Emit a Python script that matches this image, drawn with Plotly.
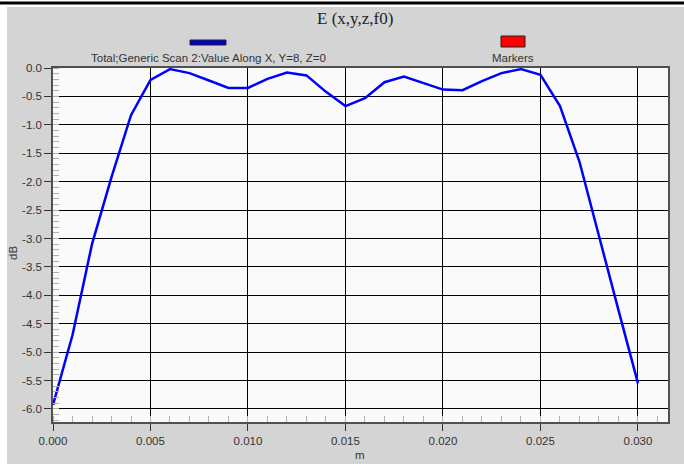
import plotly.graph_objects as go

x_m = [0.000, 0.001, 0.002, 0.003, 0.004, 0.005, 0.006, 0.007, 0.008, 0.009,
       0.010, 0.011, 0.012, 0.013, 0.014, 0.015, 0.016, 0.017, 0.018, 0.019,
       0.020, 0.021, 0.022, 0.023, 0.024, 0.025, 0.026, 0.027, 0.028, 0.029, 0.030]
db_vals = [-5.93, -4.70, -3.10, -1.92, -0.83, -0.21, -0.02, -0.09, -0.22, -0.35,
           -0.35, -0.19, -0.08, -0.13, -0.42, -0.67, -0.53, -0.25, -0.15, -0.26,
           -0.38, -0.39, -0.23, -0.09, -0.02, -0.12, -0.67, -1.65, -2.97, -4.26, -5.55]
x_ticks = [0.000, 0.005, 0.010, 0.015, 0.020, 0.025, 0.030]
y_ticks = [0.0, -0.5, -1.0, -1.5, -2.0, -2.5, -3.0, -3.5, -4.0, -4.5, -5.0, -5.5, -6.0]

W, H = 684, 464
L, R, T, B = 53, 16, 68, 42
pw, ph = W - L - R, H - T - B

def px(xp):
    return (xp - L) / pw

def py(yp):
    return (H - B - yp) / ph

fig = go.Figure()
fig.add_trace(go.Scatter(x=x_m, y=db_vals, mode="lines",
                         line=dict(color="#0000FF", width=2.5), showlegend=False))

font = "Liberation Sans, Arial, sans-serif"
axis_common = dict(showline=True, mirror=True, linecolor="#505050", linewidth=1.5,
                   showgrid=True, gridcolor="#000000", gridwidth=1, zeroline=False,
                   ticks="outside", ticklen=7, tickcolor="#333333", automargin=False,
                   tickfont=dict(family=font, size=11.5, color="#333333"))

fig.update_xaxes(range=[0, 0.03154], tickvals=x_ticks,
                 ticktext=[f"{v:.3f}" for v in x_ticks],
                 minor=dict(dtick=0.001, tick0=0, ticks="inside", ticklen=6,
                            tickcolor="#b0b0b0", showgrid=False),
                 **axis_common)
fig.update_yaxes(range=[-6.23, 0], tickvals=y_ticks,
                 ticktext=[f"{v:.1f}" for v in y_ticks],
                 minor=dict(dtick=0.1, tick0=0, ticks="inside", ticklen=6,
                            tickcolor="#b0b0b0", showgrid=False),
                 **axis_common)

shapes = [
    # white left and top strips
    dict(type="rect", xref="paper", yref="paper", x0=px(-2), x1=px(7), y0=py(H + 2), y1=py(-2),
         fillcolor="white", line_width=0, layer="above"),
    dict(type="rect", xref="paper", yref="paper", x0=px(-2), x1=px(W + 2), y0=py(7), y1=py(-2),
         fillcolor="white", line_width=0, layer="above"),
    # black top rule
    dict(type="rect", xref="paper", yref="paper", x0=px(-2), x1=px(W + 2), y0=py(4.5), y1=py(1.5),
         fillcolor="black", line_width=0, layer="above"),
    # legend swatches
    dict(type="rect", xref="paper", yref="paper", x0=px(190), x1=px(226), y0=py(45), y1=py(40),
         fillcolor="#0000CC", line=dict(color="#222222", width=1), layer="above"),
    dict(type="rect", xref="paper", yref="paper", x0=px(501), x1=px(525), y0=py(47), y1=py(36),
         fillcolor="#FF0000", line=dict(color="#222222", width=1), layer="above"),
]

annotations = [
    dict(text="E (x,y,z,f0)", xref="paper", yref="paper", x=px(355), y=py(18),
         showarrow=False, xanchor="center", yanchor="middle",
         font=dict(family="Liberation Serif, Times New Roman, serif", size=17, color="#222222")),
    dict(text="Total;Generic Scan 2:Value Along X, Y=8, Z=0", xref="paper", yref="paper",
         x=px(208), y=py(57.5), showarrow=False, xanchor="center", yanchor="middle",
         font=dict(family=font, size=11.5, color="#333333")),
    dict(text="Markers", xref="paper", yref="paper",
         x=px(513), y=py(57.5), showarrow=False, xanchor="center", yanchor="middle",
         font=dict(family=font, size=11.5, color="#333333")),
    dict(text="m", xref="paper", yref="paper", x=px(360), y=py(455),
         showarrow=False, xanchor="center", yanchor="middle",
         font=dict(family=font, size=11.5, color="#333333")),
    dict(text="dB", xref="paper", yref="paper", x=px(13), y=py(253), textangle=-90,
         showarrow=False, xanchor="center", yanchor="middle",
         font=dict(family=font, size=11.5, color="#333333")),
]

fig.update_layout(width=W, height=H, margin=dict(l=L, r=R, t=T, b=B, pad=0),
                  paper_bgcolor="#D4D4D4", plot_bgcolor="#FAFAFA",
                  shapes=shapes, annotations=annotations, showlegend=False)

fig.write_html("out.html", config={"displayModeBar": False},
               post_script="document.body.style.margin='0';document.body.style.overflow='hidden';")
